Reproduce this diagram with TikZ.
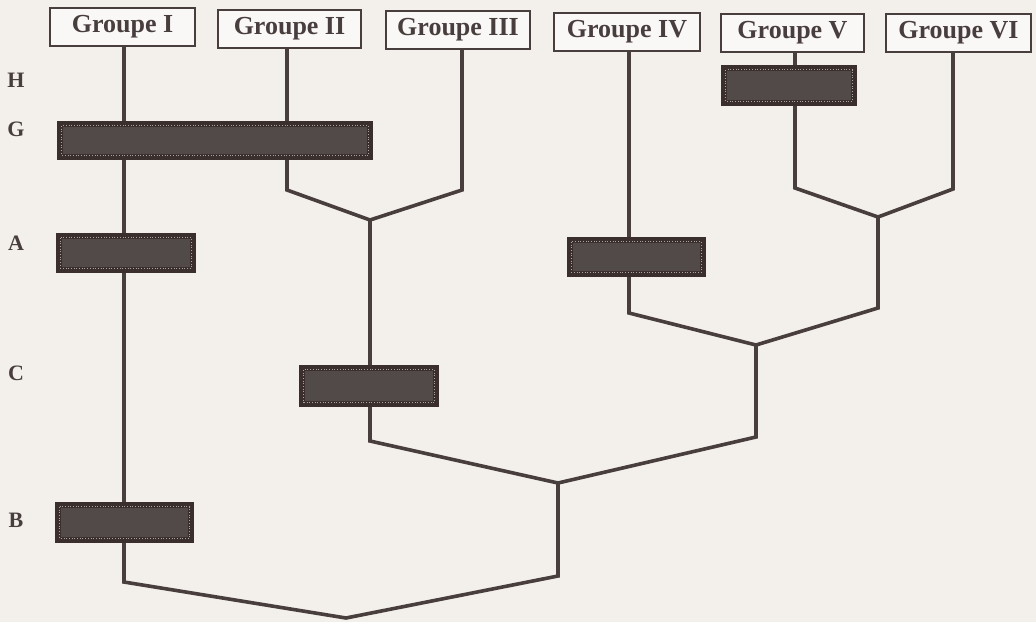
\documentclass[tikz,border=0pt]{standalone}
\usepackage{fontspec}
\setmainfont{Liberation Serif}
\usetikzlibrary{calc}
\definecolor{bgc}{RGB}{243,240,235}
\definecolor{ink}{RGB}{72,62,62}
\definecolor{darkout}{RGB}{58,47,45}
\definecolor{darkin}{RGB}{82,74,72}
\definecolor{dotc}{RGB}{170,165,160}
\pgfdeclarelayer{bglayer}
\pgfdeclarelayer{lines}
\pgfsetlayers{bglayer,lines,main}
\begin{document}
\begin{tikzpicture}[x=1pt,y=-1pt,
  grp/.style={draw=ink, line width=2pt, fill=white!55!bgc, text=ink,
    font=\fontsize{26}{30}\selectfont\bfseries, inner sep=0pt, minimum height=38pt},
  bar/.style={fill=darkout, draw=none, inner sep=0pt},
  lvl/.style={font=\fontsize{22}{26}\selectfont\bfseries, text=ink},
  link/.style={draw=ink, line width=3.6pt},
]
\begin{pgfonlayer}{bglayer}
  \fill[bgc] (0,0) rectangle (1036,622);
\end{pgfonlayer}
\useasboundingbox (0,0) rectangle (1036,622);

% group boxes
\node[grp, minimum width=145pt] (g1) at (122.5,27) {Groupe I};
\node[grp, minimum width=143pt] (g2) at (289.5,28.5) {Groupe II};
\node[grp, minimum width=144pt] (g3) at (458,30) {Groupe III};
\node[grp, minimum width=146pt] (g4) at (627,31.5) {Groupe IV};
\node[grp, minimum width=143pt] (g5) at (792.5,32.5) {Groupe V};
\node[grp, minimum width=145pt] (g6) at (958.5,33) {Groupe VI};

% level letters
\node[lvl] (lH) at (16,80) {H};
\node[lvl] (lG) at (16,129) {G};
\node[lvl] (lA) at (16,243) {A};
\node[lvl] (lC) at (16,373) {C};
\node[lvl] (lB) at (16,520) {B};

% dark bars
\node[bar, minimum width=136pt, minimum height=41pt] (hbar) at (789,85.5) {};
\node[bar, minimum width=316pt, minimum height=39pt] (gbar) at (215,140.5) {};
\node[bar, minimum width=140pt, minimum height=40pt] (abar1) at (126,253) {};
\node[bar, minimum width=139pt, minimum height=40pt] (abar2) at (636.5,257) {};
\node[bar, minimum width=140pt, minimum height=42pt] (cbar) at (369,386) {};
\node[bar, minimum width=139pt, minimum height=41pt] (bbar) at (124.5,522.5) {};
\foreach \b in {hbar,gbar,abar1,abar2,cbar,bbar}{
  \fill[darkin] ($(\b.north west)+(6,6)$) rectangle ($(\b.south east)+(-6,-6)$);
  \draw[dotc, dotted, line width=0.7pt] ($(\b.north west)+(5,5)$) rectangle ($(\b.south east)+(-5,-5)$);
}

% junction coordinates
\coordinate (c2) at (287,190);
\coordinate (c3) at (462,190);
\coordinate (j23) at (370,220);
\coordinate (c5) at (795,188);
\coordinate (c6) at (953,189);
\coordinate (j56) at (878,217);
\coordinate (c4) at (629,313);
\coordinate (c56) at (878,308);
\coordinate (j456) at (756,345);
\coordinate (c456) at (756,437);
\coordinate (c23) at (370,441);
\coordinate (j26) at (558,483);
\coordinate (c26) at (558,576);
\coordinate (c1) at (124,582);
\coordinate (root) at (346,618);

\begin{pgfonlayer}{lines}
  \draw[link] (g1.south -| c1) -- (c1) -- (root) -- (c26) -- (j26);
  \draw[link] (g2.south -| c2) -- (c2) -- (j23) -- (c3) -- (g3.south -| c3);
  \draw[link] (j23) -- (c23) -- (j26) -- (c456) -- (j456);
  \draw[link] (g4.south -| c4) -- (c4) -- (j456) -- (c56) -- (j56);
  \draw[link] (g5.south -| c5) -- (c5) -- (j56) -- (c6) -- (g6.south -| c6);
\end{pgfonlayer}
\end{tikzpicture}
\end{document}
